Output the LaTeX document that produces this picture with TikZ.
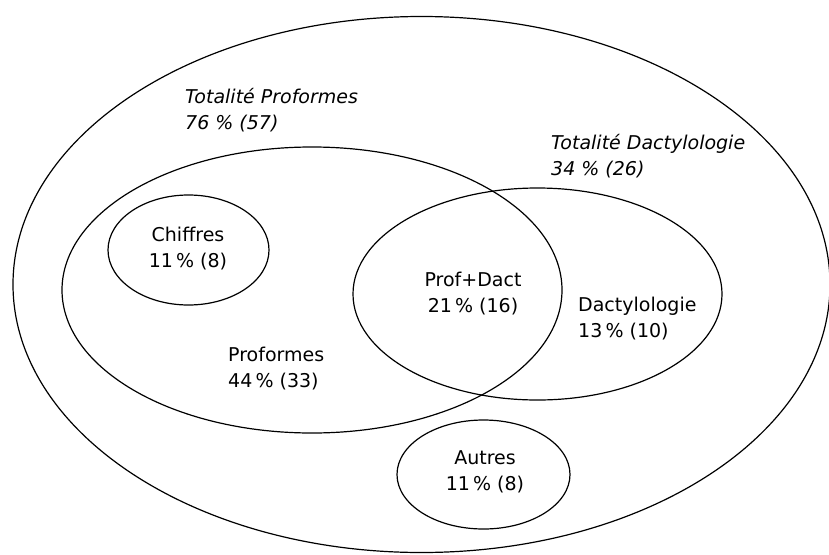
\documentclass[tikz,border=0pt]{standalone}
\usepackage{fontspec}
\setmainfont{DejaVu Sans}
\usetikzlibrary{shapes.geometric,positioning}

\begin{document}
\begin{tikzpicture}[
    x=1pt, y=-1pt,
    every node/.style={font=\fontsize{19}{26}\selectfont},
    ensemble/.style={draw, ellipse, inner sep=0pt, line width=1.2pt},
    titre/.style={align=left, anchor=west, inner sep=0pt, font=\fontsize{19}{26}\selectfont\itshape},
    effectif/.style={align=center, inner sep=0pt},
    effectifg/.style={align=left, anchor=west, inner sep=0pt},
]
\useasboundingbox (0,0) rectangle (829,554);
% les ensembles
\node[ensemble, minimum width=817pt, minimum height=536pt] (tout) at (421.5,284.5) {};
\node[ensemble, minimum width=500pt, minimum height=286pt] (proformes) at (312,290) {};
\node[ensemble, minimum width=369pt, minimum height=212pt] (dactylo) at (537.5,294) {};
\node[ensemble, minimum width=161pt, minimum height=110pt] (chiffres) at (188.5,250) {};
\node[ensemble, minimum width=173pt, minimum height=109pt] (autres) at (483.5,474.5) {};
% les textes
\node[titre] (totProf) at (185,110.5) {Totalité Proformes\\76 \% (57)};
\node[titre] (totDact) at (551,156) {Totalité Dactylologie\\34 \% (26)};
\node[effectif] (nbChiffres) at (188,248.5) {Chiffres\\11\,\% (8)};
\node[effectif] (nbProfDact) at (473,294) {Prof+Dact\\21\,\% (16)};
\node[effectifg] (nbDact) at (578,319) {Dactylologie\\13\,\% (10)};
\node[effectifg] (nbProf) at (228,368.5) {Proformes\\44\,\% (33)};
\node[effectif] (nbAutres) at (485,472) {Autres\\11\,\% (8)};
\end{tikzpicture}
\end{document}
